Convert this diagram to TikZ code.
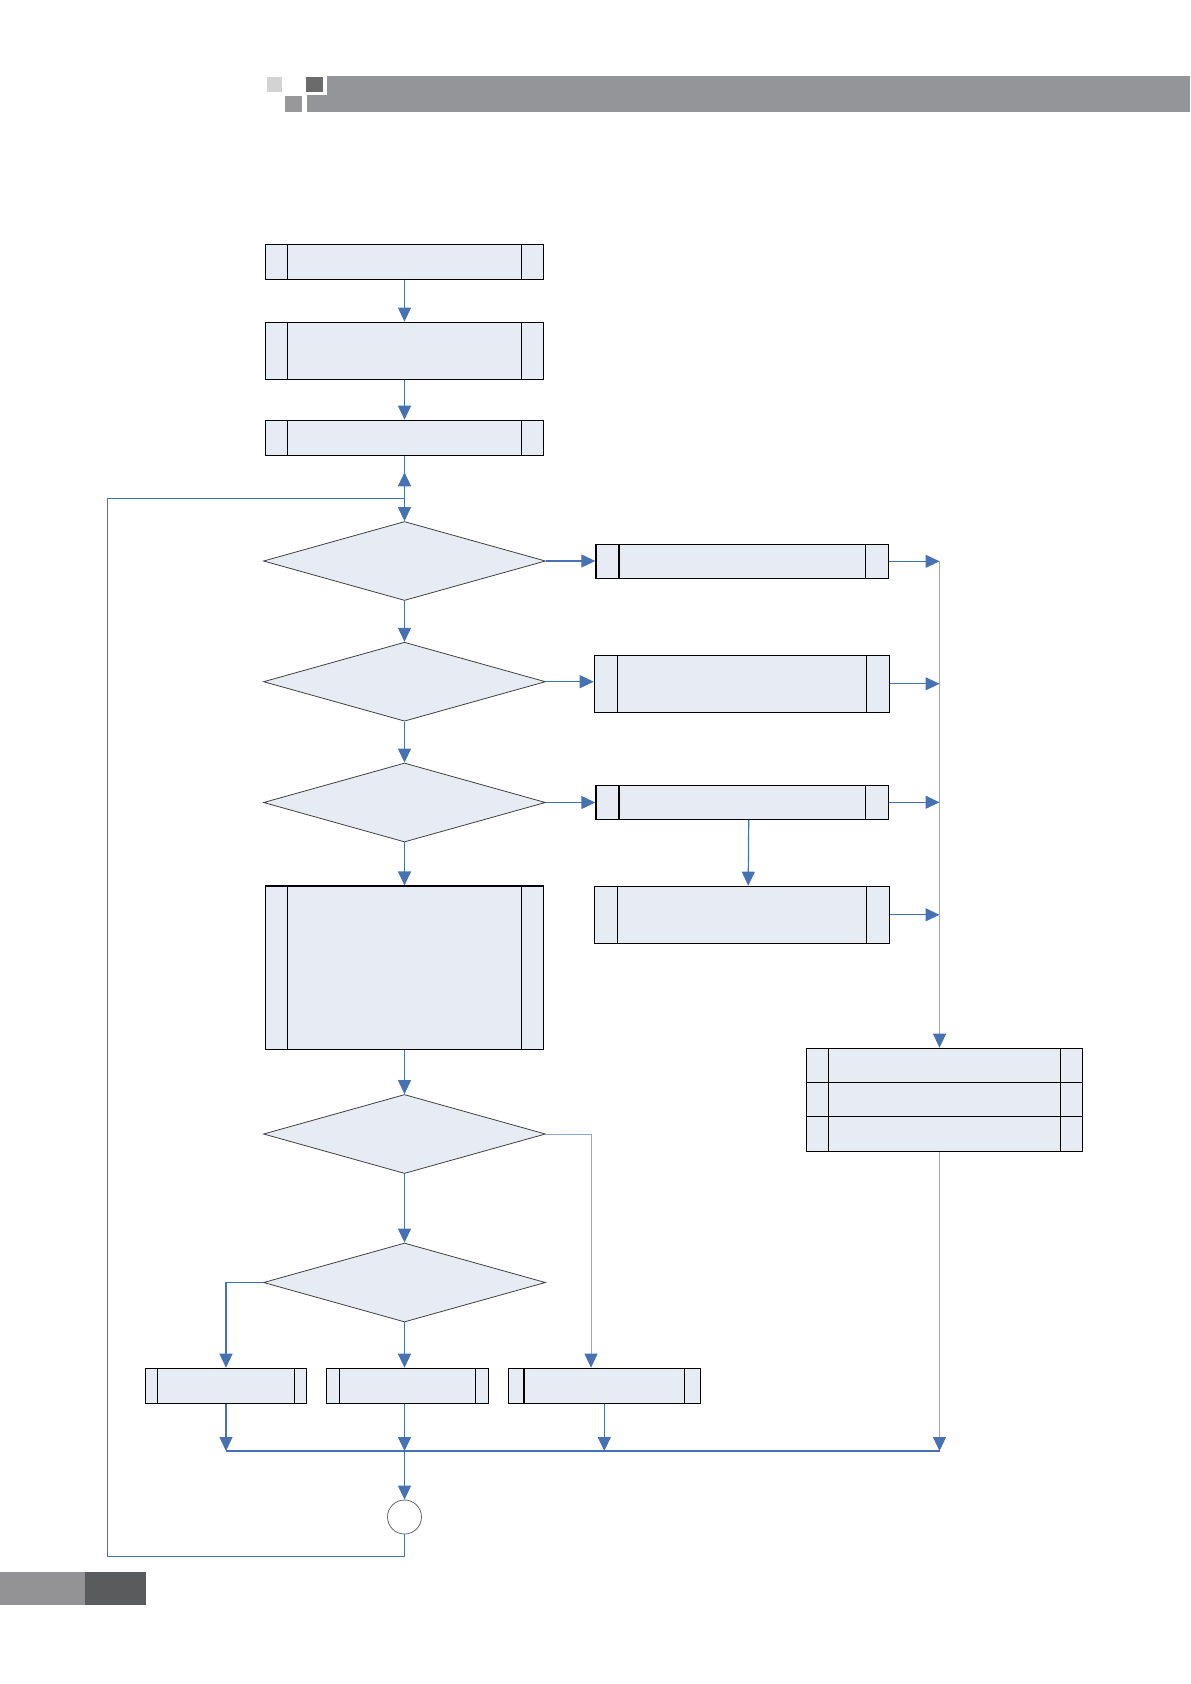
\documentclass[tikz,border=0pt]{standalone}
\usepackage{tikz}
\usetikzlibrary{arrows.meta, shapes.geometric, calc, positioning}
\definecolor{boxFill}{RGB}{231,236,244}
\definecolor{linkBlue}{RGB}{70,114,178}
\definecolor{linkPale}{RGB}{146,170,210}
\definecolor{barGray}{RGB}{148,149,152}
\definecolor{squareDark}{RGB}{107,107,107}
\definecolor{squareMid}{RGB}{152,152,154}
\definecolor{squarePale}{RGB}{211,211,211}
\definecolor{footLight}{RGB}{147,147,149}
\definecolor{footDark}{RGB}{90,91,92}
\tikzset{
    procBox/.style={rectangle, draw, line width=0.6pt, fill=boxFill, inner sep=0pt, minimum width=139pt, minimum height=17.5pt,
        path picture={
            \draw[line width=0.6pt] ([xshift=#1]path picture bounding box.north west) -- ([xshift=#1]path picture bounding box.south west);
            \draw[line width=0.6pt] ([xshift=-#1]path picture bounding box.north east) -- ([xshift=-#1]path picture bounding box.south east);
        }},
    procBox/.default=11pt,
    decision/.style={diamond, draw=black!75, line width=0.4pt, fill=boxFill, inner sep=0pt, minimum width=141pt, minimum height=39.5pt},
    joinPt/.style={circle, draw=black!60, line width=0.4pt, fill=white, inner sep=0pt, minimum size=17pt},
    linkEdge/.style={-{Triangle[length=7pt, width=6.5pt, color=linkBlue]}, draw=linkBlue, line width=0.6pt},
    linkPaleEdge/.style={linkEdge, draw=linkPale, line width=0.5pt},
    linkLine/.style={draw=linkBlue, line width=0.6pt},
}
\newcommand{\drawLink}[3][linkEdge]{
    \draw[#1] (#2) -- (#3);
}

\begin{document}
\begin{tikzpicture}[x=0.5pt, y=-0.5pt]
        \useasboundingbox (0,0) rectangle (1190,1684);

        % header and footer bars
        \fill[squarePale] (266.7,76.7) rectangle (282.3,91.7);
        \fill[barGray] (306.7,76) rectangle (1190,112.3);
        \fill[white] (306.7,76) rectangle (326.7,95);
        \fill[squareDark] (306,76.7) rectangle (322.7,91.7);
        \fill[squareMid] (285,96) rectangle (301.7,111.7);
        \fill[footLight] (0,1572) rectangle (85,1604.7);
        \fill[footDark] (85,1572) rectangle (145.7,1604.7);

        \node[procBox] (init) at (404.5,262) {};
        \node[procBox, minimum height=28.5pt] (setup) at (404.5,350.7) {};
        \node[procBox] (ready) at (404.5,437.8) {};
        \node[decision] (askA) at (404.5,561) {};
        \node[decision] (askB) at (404.5,681.7) {};
        \node[decision] (askC) at (404.5,802.5) {};
        \node[procBox, minimum height=81.7pt] (work) at (404.5,967.7) {};
        \node[decision] (askD) at (404.5,1134) {};
        \node[decision] (askE) at (404.5,1282.5) {};

        \node[procBox=11.5pt, minimum width=146.4pt, minimum height=17pt] (caseA) at (742.3,561.3) {};
        \node[procBox=11.5pt, minimum width=147.5pt, minimum height=28.5pt] (caseB) at (741.8,683.8) {};
        \node[procBox=11.5pt, minimum width=146.4pt, minimum height=17pt] (caseC) at (742.3,802.3) {};
        \node[procBox=11.5pt, minimum width=147.5pt, minimum height=28.5pt] (caseCx) at (741.8,914.8) {};

        \node[procBox, minimum width=138pt, minimum height=17.2pt] (log1) at (944.3,1065.5) {};
        \node[procBox, minimum width=138pt, minimum height=17.2pt] (log2) at (944.3,1099.7) {};
        \node[procBox, minimum width=138pt, minimum height=17.2pt] (log3) at (944.3,1133.9) {};

        \node[procBox=5.8pt, minimum width=80.3pt] (endA) at (226,1385.8) {};
        \node[procBox=6.3pt, minimum width=80.8pt] (endB) at (407.5,1385.8) {};
        \node[procBox=7.8pt, minimum width=96pt] (endC) at (604.3,1385.8) {};
        \node[joinPt] (loopPt) at (404.5,1517) {};

        \coordinate (jn) at (404.5,498.3);
        \coordinate (upTip) at (404.5,472.3);
        \coordinate (loopCorner) at (107.3,1556.5);
        \coordinate (bus) at (939.5,561.3);
        \coordinate (dropC) at (591,1134);
        \coordinate (mergeL) at (225.5,1451);
        \coordinate (mergeR) at (939.5,1451);

        \drawLink{init}{setup}
        \drawLink{setup}{ready}
        \drawLink{ready}{askA}
        \drawLink{askA}{askB}
        \drawLink{askB}{askC}
        \drawLink{askC}{work}
        \drawLink{work}{askD}
        \drawLink{askD}{askE}
        \drawLink{askE.south}{askE.south |- endB.north}

        \drawLink{askA.east}{askA.east -| caseA.west}
        \drawLink{askB.east}{askB.east -| caseB.west}
        \drawLink{askC.east}{askC.east -| caseC.west}
        \drawLink{[xshift=3.2pt]caseC.south}{[xshift=3.2pt]caseCx.north}

        \drawLink{caseA.east}{caseA.east -| bus}
        \drawLink{caseB.east}{caseB.east -| bus}
        \drawLink{caseC.east}{caseC.east -| bus}
        \drawLink{caseCx.east}{caseCx.east -| bus}
        \drawLink[linkPaleEdge]{bus}{bus |- log1.north}
        \drawLink[linkPaleEdge]{log3.south -| bus}{mergeR}

        \draw[linkPaleEdge] (askD.east) -- (dropC) -- (dropC |- endC.north);
        \draw[linkEdge] (askE.west) -| (endA.north);

        \draw[linkLine] (mergeL) -- (mergeR);
        \drawLink{endA.south}{endA.south |- mergeL}
        \drawLink{endB.south -| askE.south}{askE.south |- mergeL}
        \drawLink{endC.south}{endC.south |- mergeL}
        \drawLink{askE.south |- mergeL}{loopPt.north}

        % loop back to the first test
        \draw[linkEdge] (loopPt.south) |- (loopCorner) |- (jn) -- (upTip);

    \end{tikzpicture}
\end{document}
